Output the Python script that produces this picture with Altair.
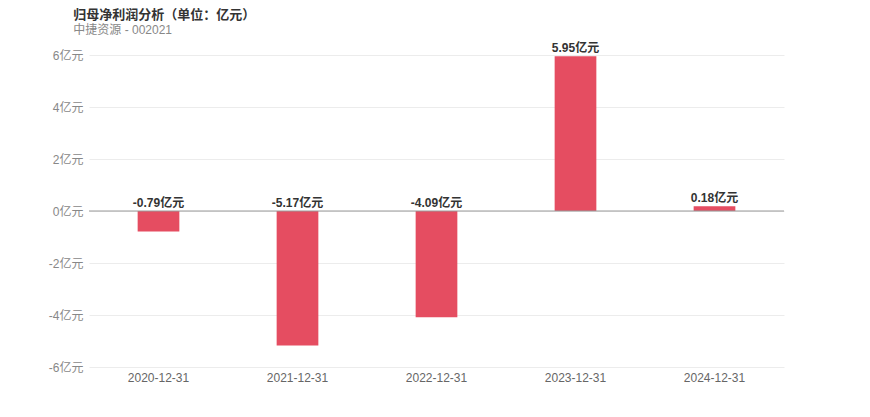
import altair as alt
import pandas as pd

dates = ["2020-12-31", "2021-12-31", "2022-12-31", "2023-12-31", "2024-12-31"]
values = [-0.79, -5.17, -4.09, 5.95, 0.18]
labels = ["-0.79亿元", "-5.17亿元", "-4.09亿元", "5.95亿元", "0.18亿元"]

df = pd.DataFrame({"date": dates, "value": values, "label": labels})
df["labelPos"] = df["value"].clip(lower=0)

FONT = "Liberation Sans, Arial, Noto Sans CJK SC, sans-serif"

x = alt.X("date:N", title=None, sort=None,
          scale=alt.Scale(paddingInner=0.7, paddingOuter=0.35),
          axis=alt.Axis(labelAngle=0, ticks=False, domain=False, labelColor="#666",
                        labelFontSize=12, labelPadding=5, labelFont=FONT))

bars = alt.Chart(df).mark_bar(color="#e54d61").encode(
    x=x,
    y=alt.Y("value:Q", title=None,
            scale=alt.Scale(domain=[-6, 6], nice=False),
            axis=alt.Axis(values=[-6, -4, -2, 0, 2, 4, 6], labelExpr="datum.value + '亿元'",
                          ticks=False, domain=False, gridColor="#ececec",
                          labelColor="#888", labelFontSize=12, labelPadding=6, labelFont=FONT)),
)

zero = alt.Chart(pd.DataFrame({"z": [0]})).mark_rule(color="#999", strokeWidth=1).encode(
    y=alt.Y("z:Q")
)

text = alt.Chart(df).mark_text(dy=-8, fontWeight="bold", fontSize=12, color="#333", font=FONT).encode(
    x=alt.X("date:N", sort=None),
    y=alt.Y("labelPos:Q"),
    text="label:N",
)

chart = alt.layer(bars, zero, text).properties(
    width=695, height=312,
    title=alt.TitleParams(
        text="归母净利润分析（单位：亿元）",
        subtitle="中捷资源 - 002021",
        anchor="start", dx=25, offset=6,
        fontSize=13, fontWeight="bold", color="#333", font=FONT,
        subtitleFontSize=12, subtitleColor="#888", subtitleFont=FONT, subtitlePadding=3,
    ),
).configure(
    padding={"left": 40, "top": 1, "right": 5, "bottom": 5},
    view=alt.ViewConfig(stroke="transparent", strokeWidth=0),
)

chart.save("out.html", embed_options={"renderer": "svg", "actions": False})
